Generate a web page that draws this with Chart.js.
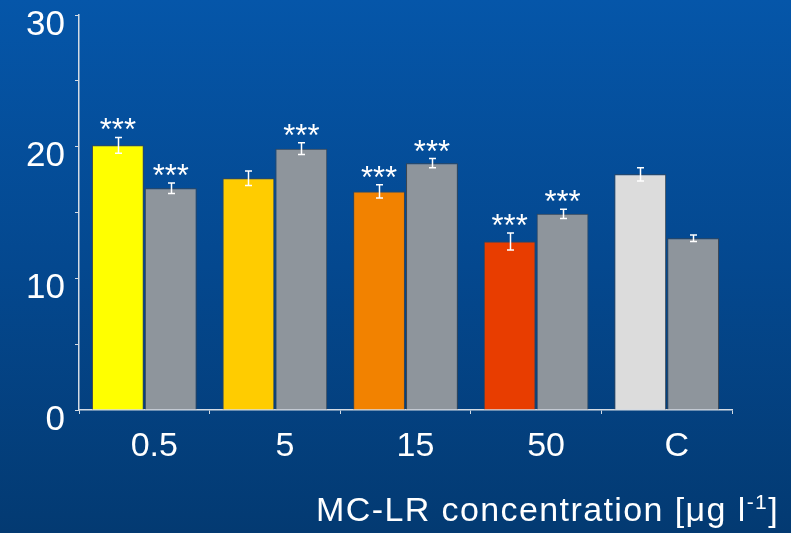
<!DOCTYPE html>
<html>
<head>
<meta charset="utf-8">
<script src="https://cdn.jsdelivr.net/npm/chart.js@4/dist/chart.umd.min.js"></script>
<style>
  html, body { margin: 0; padding: 0; background: #03467f; }
  #wrap { width: 791px; height: 533px; }
  canvas { display: block; }
</style>
</head>
<body>
<div id="wrap"><canvas id="c" width="791" height="533"></canvas></div>
<script>
// MC-LR concentrations (last group = control)
const categories = ['0.5', '5', '15', '50', 'C'];

// first bar of each pair (coloured by concentration)
const treatedMeans = [20.1, 17.6, 16.6, 12.8, 17.9];
const treatedErr   = [0.6, 0.55, 0.5, 0.65, 0.5];
const treatedStars = ['***', '', '***', '***', ''];

// second bar of each pair (grey)
const greyMeans = [16.85, 19.85, 18.75, 14.9, 13.05];
const greyErr   = [0.4, 0.45, 0.35, 0.35, 0.25];
const greyStars = ['***', '***', '***', '***', ''];

const yTicks = [0, 10, 20, 30];
const axisTitle = 'MC-LR concentration [μg l';
const axisTitleSup = '-1';
const axisTitleEnd = ']';

const treatedColors = ['#ffff00', '#ffcc00', '#f28200', '#e83d00', '#dcdcdc'];
const greyColor = '#8e959c';
const FONT = '"Liberation Sans", Arial, sans-serif';
const AXIS_COLOR = '#d4dbe4';

const background = {
  id: 'background',
  beforeDraw(chart) {
    const { ctx, width, height } = chart;
    const g = ctx.createLinearGradient(0, 0, 0, height);
    g.addColorStop(0, '#0556a9');
    g.addColorStop(0.5, '#04488f');
    g.addColorStop(1, '#033a72');
    ctx.save();
    ctx.fillStyle = g;
    ctx.fillRect(0, 0, width, height);
    ctx.restore();
  }
};

// error bars and significance marks
const annotations = {
  id: 'annotations',
  afterDatasetsDraw(chart) {
    const { ctx } = chart;
    const y = chart.scales.y;
    const sets = [
      { means: treatedMeans, err: treatedErr, stars: treatedStars },
      { means: greyMeans, err: greyErr, stars: greyStars }
    ];
    ctx.save();
    sets.forEach((s, di) => {
      const meta = chart.getDatasetMeta(di);
      meta.data.forEach((bar, i) => {
        const x = Math.round(bar.x) + 0.5;
        const top = y.getPixelForValue(s.means[i] + s.err[i]);
        const bot = y.getPixelForValue(s.means[i] - s.err[i]);
        ctx.strokeStyle = '#ffffff';
        ctx.lineWidth = 1.5;
        ctx.beginPath();
        ctx.moveTo(x, top); ctx.lineTo(x, bot);
        ctx.moveTo(x - 3.5, top); ctx.lineTo(x + 3.5, top);
        ctx.moveTo(x - 3.5, bot); ctx.lineTo(x + 3.5, bot);
        ctx.stroke();
        if (s.stars[i]) {
          ctx.fillStyle = '#ffffff';
          ctx.font = '31px ' + FONT;
          ctx.textAlign = 'center';
          ctx.textBaseline = 'alphabetic';
          ctx.fillText(s.stars[i], bar.x, top + 3);
        }
      });
    });
    ctx.restore();
  }
};

// axis title with superscript exponent, right aligned under the plot
const xTitle = {
  id: 'xTitle',
  afterDraw(chart) {
    const { ctx } = chart;
    ctx.save();
    ctx.fillStyle = '#ffffff';
    ctx.textBaseline = 'alphabetic';
    ctx.textAlign = 'left';
    const big = '34px ' + FONT, small = '21px ' + FONT;
    ctx.font = big;
    ctx.letterSpacing = '1.4px';
    const w1 = ctx.measureText(axisTitle).width;
    const w3 = ctx.measureText(axisTitleEnd).width;
    ctx.font = small;
    const w2 = ctx.measureText(axisTitleSup).width;
    const right = 779, base = 521;
    let x = right - (w1 + w2 + w3);
    ctx.font = big;
    ctx.fillText(axisTitle, x, base);
    x += w1;
    ctx.font = small;
    ctx.fillText(axisTitleSup, x, base - 12);
    x += w2;
    ctx.font = big;
    ctx.fillText(axisTitleEnd, x, base);
    ctx.restore();
  }
};

new Chart(document.getElementById('c'), {
  type: 'bar',
  data: {
    labels: categories,
    datasets: [
      {
        data: treatedMeans,
        backgroundColor: treatedColors,
        borderColor: '#3d4650',
        borderWidth: 1,
        categoryPercentage: 0.81,
        barPercentage: 0.98
      },
      {
        data: greyMeans,
        backgroundColor: greyColor,
        borderColor: '#3d4650',
        borderWidth: 1,
        categoryPercentage: 0.81,
        barPercentage: 0.98
      }
    ]
  },
  options: {
    responsive: false,
    animation: false,
    devicePixelRatio: 1,
    layout: { padding: { top: 15, right: 59, left: 0, bottom: 0 } },
    plugins: { legend: { display: false }, tooltip: { enabled: false } },
    scales: {
      x: {
        grid: { drawOnChartArea: false, drawTicks: true, tickLength: 4, color: AXIS_COLOR, lineWidth: 1 },
        border: { color: AXIS_COLOR, width: 1.5 },
        ticks: { color: '#ffffff', font: { family: FONT, size: 34 }, padding: 12, labelOffset: 10 },
        afterFit(s) { s.height = 123; s.paddingLeft = 0; s.paddingRight = 0; }
      },
      y: {
        min: 0, max: 30,
        grid: { drawOnChartArea: false, drawTicks: true, tickLength: 4, color: AXIS_COLOR, lineWidth: 1 },
        border: { color: AXIS_COLOR, width: 1.5 },
        ticks: {
          stepSize: 5,
          color: '#ffffff',
          font: { family: FONT, size: 35 },
          padding: 10,
          labelOffset: 10,
          callback: v => yTicks.includes(v) ? String(v) : ''
        },
        afterFit(s) { s.width = 79; s.paddingTop = 0; s.paddingBottom = 0; }
      }
    }
  },
  plugins: [background, annotations, xTitle]
});
</script>
</body>
</html>
